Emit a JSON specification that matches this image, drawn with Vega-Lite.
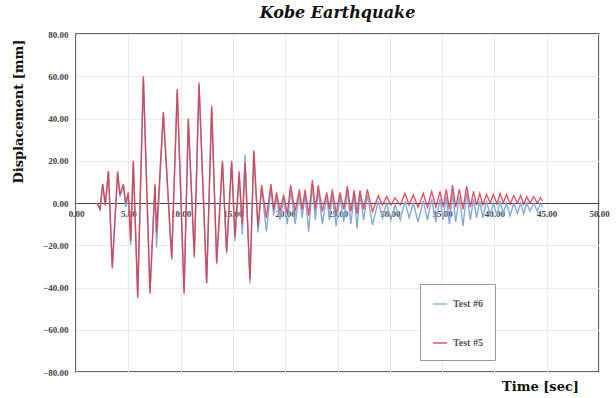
{
  "$schema": "https://vega.github.io/schema/vega-lite/v6.json",
  "width": 523,
  "height": 338,
  "autosize": {"type": "none"},
  "padding": {"left": 76, "top": 34, "right": 17, "bottom": 26},
  "background": "white",
  "title": {"text": "Kobe Earthquake", "font": "DejaVu Serif", "fontSize": 16, "fontWeight": "bold", "fontStyle": "italic", "color": "#111", "anchor": "middle", "offset": 9},
  "config": {"view": {"stroke": "#333", "strokeWidth": 1.5}},
  "datasets": {
    "t6": [
      {"t": 2.0, "d": 0}, {"t": 2.3, "d": -3}, {"t": 2.55, "d": 9}, {"t": 2.8, "d": -1}, {"t": 3.1, "d": 15},
      {"t": 3.47, "d": -30}, {"t": 3.98, "d": 14}, {"t": 4.2, "d": 3}, {"t": 4.53, "d": 8}, {"t": 4.75, "d": -2},
      {"t": 5.0, "d": 4}, {"t": 5.23, "d": -20}, {"t": 5.48, "d": 19}, {"t": 5.9, "d": -44}, {"t": 6.44, "d": 59},
      {"t": 7.07, "d": -42}, {"t": 7.55, "d": 8}, {"t": 7.7, "d": -21}, {"t": 8.35, "d": 42}, {"t": 9.15, "d": -27},
      {"t": 9.68, "d": 53}, {"t": 10.33, "d": -42}, {"t": 10.74, "d": 39}, {"t": 11.31, "d": -26}, {"t": 11.76, "d": 56},
      {"t": 12.49, "d": -38}, {"t": 12.97, "d": 45}, {"t": 13.45, "d": -29}, {"t": 14.0, "d": 19}, {"t": 14.4, "d": -24},
      {"t": 14.88, "d": 19}, {"t": 15.2, "d": -18}, {"t": 15.6, "d": 13}, {"t": 15.9, "d": -15}, {"t": 16.16, "d": 23},
      {"t": 16.63, "d": -38}, {"t": 17.0, "d": 24}, {"t": 17.4, "d": -14}, {"t": 17.75, "d": 7}, {"t": 18.2, "d": -13.5},
      {"t": 18.64, "d": 7}, {"t": 18.9, "d": -6}, {"t": 19.18, "d": 3}, {"t": 19.5, "d": -8}, {"t": 19.85, "d": 2},
      {"t": 20.2, "d": -10}, {"t": 20.52, "d": 6}, {"t": 20.95, "d": -10}, {"t": 21.35, "d": 4}, {"t": 21.62, "d": -7},
      {"t": 21.9, "d": 4}, {"t": 22.25, "d": -13.5}, {"t": 22.6, "d": 9}, {"t": 22.88, "d": -8}, {"t": 23.16, "d": 6},
      {"t": 23.55, "d": -10}, {"t": 23.97, "d": 3}, {"t": 24.23, "d": -8}, {"t": 24.5, "d": 4}, {"t": 24.87, "d": -11},
      {"t": 25.24, "d": 3}, {"t": 25.6, "d": -9}, {"t": 25.94, "d": 6}, {"t": 26.27, "d": -10}, {"t": 26.6, "d": 4},
      {"t": 26.87, "d": -12}, {"t": 27.15, "d": 4}, {"t": 27.5, "d": -8}, {"t": 27.85, "d": 4}, {"t": 28.35, "d": -10.5},
      {"t": 28.9, "d": 1}, {"t": 29.3, "d": -7}, {"t": 29.7, "d": 0}, {"t": 30.1, "d": -8}, {"t": 30.5, "d": -1},
      {"t": 31.0, "d": -8}, {"t": 31.45, "d": 1}, {"t": 31.85, "d": -7}, {"t": 32.25, "d": 0}, {"t": 32.7, "d": -9},
      {"t": 33.2, "d": 1}, {"t": 33.6, "d": -8}, {"t": 34.0, "d": 2}, {"t": 34.4, "d": -9}, {"t": 34.8, "d": 2},
      {"t": 35.1, "d": -8}, {"t": 35.4, "d": 3}, {"t": 35.7, "d": -10}, {"t": 36.0, "d": 5}, {"t": 36.3, "d": -9},
      {"t": 36.65, "d": 3}, {"t": 37.0, "d": -11}, {"t": 37.35, "d": 5}, {"t": 37.7, "d": -8}, {"t": 38.0, "d": 2},
      {"t": 38.3, "d": -7}, {"t": 38.6, "d": 1}, {"t": 38.9, "d": -7}, {"t": 39.25, "d": 1}, {"t": 39.6, "d": -6},
      {"t": 39.9, "d": 0}, {"t": 40.25, "d": -6}, {"t": 40.55, "d": 1}, {"t": 40.85, "d": -5}, {"t": 41.15, "d": 0},
      {"t": 41.5, "d": -6}, {"t": 41.85, "d": 0}, {"t": 42.2, "d": -5}, {"t": 42.5, "d": 0}, {"t": 42.8, "d": -5},
      {"t": 43.1, "d": 0}, {"t": 43.4, "d": -4}, {"t": 43.75, "d": 0}, {"t": 44.1, "d": -4}, {"t": 44.4, "d": 0},
      {"t": 44.6, "d": -2}
    ],
    "t5": [
      {"t": 2.0, "d": 0}, {"t": 2.3, "d": -3}, {"t": 2.55, "d": 9}, {"t": 2.8, "d": -1}, {"t": 3.1, "d": 15},
      {"t": 3.47, "d": -31}, {"t": 3.98, "d": 15}, {"t": 4.2, "d": 4}, {"t": 4.53, "d": 9}, {"t": 4.75, "d": 0},
      {"t": 5.0, "d": 5}, {"t": 5.23, "d": -18}, {"t": 5.48, "d": 20}, {"t": 5.9, "d": -45}, {"t": 6.44, "d": 60},
      {"t": 7.07, "d": -43}, {"t": 7.55, "d": 9}, {"t": 7.7, "d": -14}, {"t": 8.35, "d": 43}, {"t": 9.15, "d": -26},
      {"t": 9.68, "d": 54}, {"t": 10.33, "d": -43}, {"t": 10.74, "d": 40}, {"t": 11.31, "d": -25}, {"t": 11.76, "d": 57},
      {"t": 12.49, "d": -38}, {"t": 12.97, "d": 46}, {"t": 13.45, "d": -28}, {"t": 14.0, "d": 20}, {"t": 14.4, "d": -23},
      {"t": 14.88, "d": 20}, {"t": 15.2, "d": -16}, {"t": 15.6, "d": 15}, {"t": 15.9, "d": -10}, {"t": 16.16, "d": 19},
      {"t": 16.63, "d": -36}, {"t": 17.0, "d": 25}, {"t": 17.4, "d": -11}, {"t": 17.75, "d": 8.5}, {"t": 18.2, "d": -7},
      {"t": 18.64, "d": 9}, {"t": 18.9, "d": -3}, {"t": 19.18, "d": 5}, {"t": 19.5, "d": -4}, {"t": 19.85, "d": 4},
      {"t": 20.2, "d": -5}, {"t": 20.52, "d": 8.5}, {"t": 20.95, "d": -4}, {"t": 21.35, "d": 6.4}, {"t": 21.62, "d": -3},
      {"t": 21.9, "d": 6.4}, {"t": 22.25, "d": -6}, {"t": 22.6, "d": 10.9}, {"t": 22.88, "d": -3}, {"t": 23.16, "d": 8.5},
      {"t": 23.55, "d": -4}, {"t": 23.97, "d": 5}, {"t": 24.23, "d": -3}, {"t": 24.5, "d": 6.4}, {"t": 24.87, "d": -5},
      {"t": 25.24, "d": 5}, {"t": 25.6, "d": -3}, {"t": 25.94, "d": 8}, {"t": 26.27, "d": -4}, {"t": 26.6, "d": 6},
      {"t": 26.87, "d": -5}, {"t": 27.15, "d": 6}, {"t": 27.5, "d": -3}, {"t": 27.85, "d": 6.4}, {"t": 28.35, "d": -4},
      {"t": 28.9, "d": 3.5}, {"t": 29.3, "d": -1}, {"t": 29.7, "d": 3}, {"t": 30.1, "d": -1}, {"t": 30.5, "d": 2.5},
      {"t": 31.0, "d": -1}, {"t": 31.45, "d": 4.5}, {"t": 31.85, "d": -1}, {"t": 32.25, "d": 3.8}, {"t": 32.7, "d": -2},
      {"t": 33.2, "d": 4.5}, {"t": 33.6, "d": -2}, {"t": 34.0, "d": 5.5}, {"t": 34.4, "d": -2}, {"t": 34.8, "d": 5.5},
      {"t": 35.1, "d": -2}, {"t": 35.4, "d": 6.4}, {"t": 35.7, "d": -3}, {"t": 36.0, "d": 8.5}, {"t": 36.3, "d": -2},
      {"t": 36.65, "d": 6.4}, {"t": 37.0, "d": -3}, {"t": 37.35, "d": 8}, {"t": 37.7, "d": -2}, {"t": 38.0, "d": 5.5},
      {"t": 38.3, "d": -1}, {"t": 38.6, "d": 4.5}, {"t": 38.9, "d": -1}, {"t": 39.25, "d": 4}, {"t": 39.6, "d": 0},
      {"t": 39.9, "d": 4}, {"t": 40.25, "d": -0.5}, {"t": 40.55, "d": 4.5}, {"t": 40.85, "d": 0}, {"t": 41.15, "d": 4},
      {"t": 41.5, "d": -0.5}, {"t": 41.85, "d": 3.5}, {"t": 42.2, "d": 0}, {"t": 42.5, "d": 3.5}, {"t": 42.8, "d": -0.5},
      {"t": 43.1, "d": 3}, {"t": 43.4, "d": 0}, {"t": 43.75, "d": 3}, {"t": 44.1, "d": 0}, {"t": 44.4, "d": 2.5},
      {"t": 44.6, "d": 1}
    ]
  },
  "encoding": {
    "x": {
      "field": "t", "type": "quantitative",
      "scale": {"domain": [0, 50], "nice": false, "zero": false},
      "axis": {
        "title": "Time [sec]", "offset": -169,
        "values": [0, 5, 10, 15, 20, 25, 30, 35, 40, 45, 50], "format": ".2f",
        "grid": true, "gridColor": "#ebebeb", "gridWidth": 1,
        "domainColor": "#444", "domainWidth": 1.2, "ticks": false,
        "labelPadding": 6, "labelFont": "Liberation Serif", "labelFontWeight": "bold", "labelFontSize": 9, "labelColor": "#444",
        "labelFlush": false, "labelOverlap": false,
        "titleFont": "DejaVu Serif", "titleFontSize": 13, "titleFontWeight": "bold", "titleColor": "#111",
        "titleX": 464, "titleY": 183, "titleAlign": "center", "titleBaseline": "middle"
      }
    },
    "y": {
      "field": "d", "type": "quantitative",
      "scale": {"domain": [-80, 80], "nice": false},
      "axis": {
        "title": "Displacement [mm]",
        "values": [-80, -60, -40, -20, 0, 20, 40, 60, 80], "format": ".2f",
        "grid": true, "gridColor": "#ebebeb", "gridWidth": 1,
        "domain": false, "ticks": false,
        "labelPadding": 8, "labelFont": "Liberation Serif", "labelFontWeight": "bold", "labelFontSize": 9, "labelColor": "#444",
        "titleFont": "DejaVu Serif", "titleFontSize": 13, "titleFontWeight": "bold", "titleColor": "#111",
        "titleAngle": 270, "titleX": -58, "titleY": 77, "titleAlign": "center", "titleBaseline": "middle"
      }
    }
  },
  "layer": [
    {
      "data": {"name": "t6"},
      "mark": {"type": "line", "strokeWidth": 1.4},
      "encoding": {
        "color": {
          "datum": "Test #6", "type": "nominal",
          "scale": {"domain": ["Test #6", "Test #5"], "range": ["#84a9dc", "#d93a49"]},
          "legend": {
            "orient": "none", "legendX": 344, "legendY": 250, "title": null,
            "symbolType": "stroke", "symbolSize": 200, "symbolStrokeWidth": 1.5,
            "labelFont": "Liberation Serif", "labelFontSize": 10, "labelFontWeight": "bold", "labelColor": "#555",
            "strokeColor": "#999", "fillColor": "white", "padding": 12, "rowPadding": 26, "labelOffset": 5
          }
        }
      }
    },
    {
      "data": {"name": "t5"},
      "mark": {"type": "line", "strokeWidth": 1.4, "opacity": 0.85},
      "encoding": {"color": {"datum": "Test #5", "type": "nominal"}}
    }
  ]
}
